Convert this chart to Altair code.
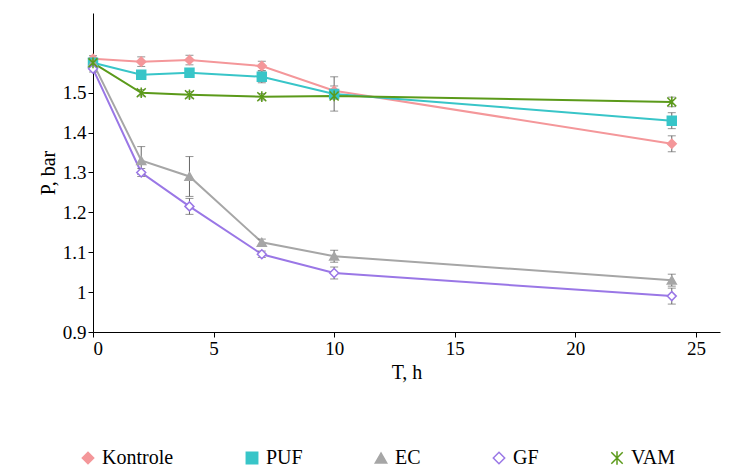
import altair as alt
import pandas as pd

hours = [0, 2, 4, 7, 10, 24]
series = ['Kontrole', 'PUF', 'EC', 'GF', 'VAM']
values = {
    'Kontrole': [1.585, 1.578, 1.582, 1.567, 1.505, 1.372],
    'PUF': [1.575, 1.545, 1.550, 1.540, 1.497, 1.430],
    'EC': [1.575, 1.330, 1.290, 1.125, 1.090, 1.030],
    'GF': [1.560, 1.300, 1.215, 1.095, 1.048, 0.990],
    'VAM': [1.575, 1.500, 1.495, 1.490, 1.492, 1.477],
}
errors = {
    'Kontrole': [0.008, 0.012, 0.012, 0.012, 0.012, 0.02],
    'PUF': [0.008, 0.008, 0.008, 0.015, 0.043, 0.02],
    'EC': [0.008, 0.035, 0.05, 0.008, 0.015, 0.015],
    'GF': [0.008, 0.01, 0.02, 0.008, 0.015, 0.02],
    'VAM': [0.008, 0.008, 0.008, 0.008, 0.008, 0.012],
}
colors = ['#f4979a', '#38c5c8', '#a6a6a6', '#9a77e6', '#5b9a1a']
fills = ['#f4979a', '#38c5c8', '#a6a6a6', 'white', '#5b9a1a']
shapes = ['diamond', 'square', 'triangle-up', 'diamond',
          'M-1,-1L1,1M-1,1L1,-1M0,-1.2L0,1.2']

rows = []
for s in series:
    for h, v, e in zip(hours, values[s], errors[s]):
        rows.append({'T': h, 'P': v, 'lo': v - e, 'hi': v + e, 'series': s})
df = pd.DataFrame(rows)

x = alt.X('T:Q', title='T, h', scale=alt.Scale(domain=[0, 25]),
          axis=alt.Axis(values=[0, 5, 10, 15, 20, 25], grid=False))
y = alt.Y('P:Q', title='P, bar', scale=alt.Scale(domain=[0.9, 1.7]),
          axis=alt.Axis(values=[0.9, 1.0, 1.1, 1.2, 1.3, 1.4, 1.5], grid=False,
                        labelExpr="datum.value == 1 ? '1' : format(datum.value, '.1f')"))
col = alt.Color('series:N', scale=alt.Scale(domain=series, range=colors), title=None,
                sort=series)
fil = alt.Fill('series:N', scale=alt.Scale(domain=series, range=fills), title=None,
               sort=series)
shp = alt.Shape('series:N', scale=alt.Scale(domain=series, range=shapes), title=None,
                sort=series)

base = alt.Chart(df)
err = base.mark_rule(color='#666666').encode(x='T:Q', y='lo:Q', y2='hi:Q')
caps_lo = base.mark_tick(color='#666666', thickness=1, size=8, orient='horizontal').encode(x='T:Q', y='lo:Q')
caps_hi = base.mark_tick(color='#666666', thickness=1, size=8, orient='horizontal').encode(x='T:Q', y='hi:Q')
lines = base.mark_line(strokeWidth=2).encode(x=x, y=y, color=col)
pts = base.mark_point(size=80, opacity=1, strokeWidth=1.5).encode(
    x=x, y=y, color=col, fill=fil, shape=shp)

chart = alt.layer(lines, err, caps_lo, caps_hi, pts).properties(
    width=627, height=319, padding={'left': 30, 'top': 5, 'right': 5, 'bottom': 5}
).configure_view(
    stroke=None
).configure_axis(
    labelFont='Liberation Serif', titleFont='Liberation Serif', labelFontSize=19,
    titleFontSize=20, titleFontWeight='normal', domainColor='black', tickColor='black',
    labelColor='black', titleColor='black'
).configure_legend(
    orient='none', legendX=-15, legendY=435, direction='horizontal',
    labelFont='Liberation Serif', labelFontSize=20, labelColor='black',
    symbolSize=130, columnPadding=68
)
chart.save("out.html", embed_options={"renderer": "svg", "actions": False})
